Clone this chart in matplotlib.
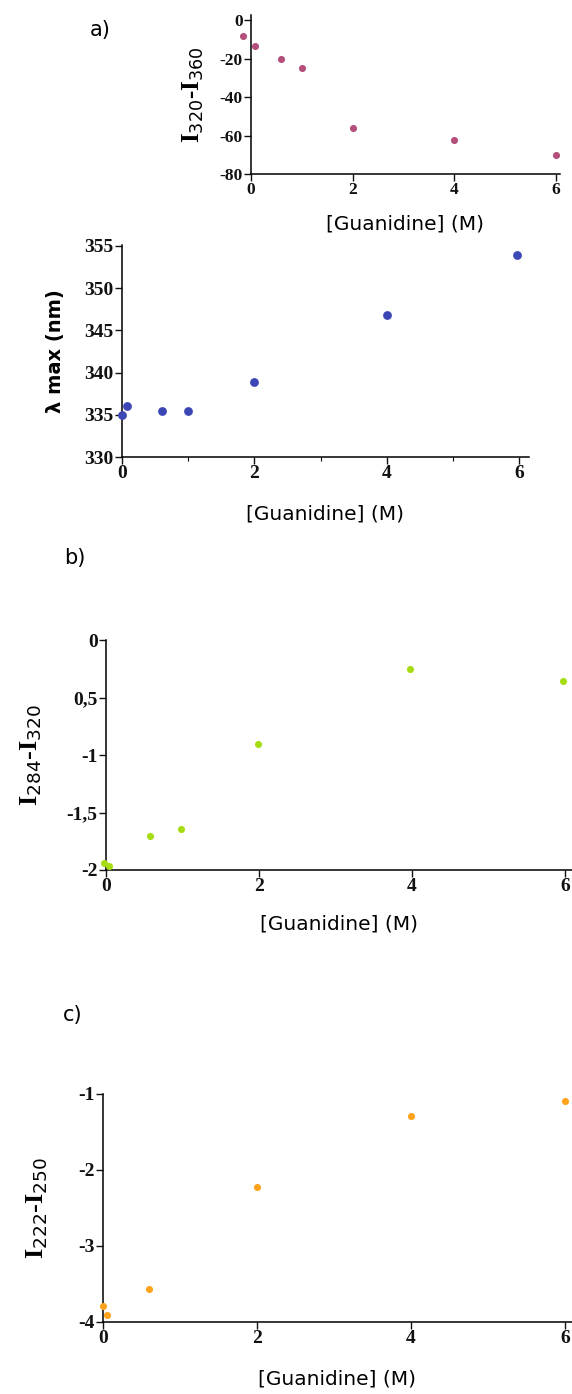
import matplotlib
matplotlib.use("Agg")
import matplotlib.pyplot as plt
from matplotlib.ticker import FixedLocator

# ---- data ----
gdn_a1 = [-0.15, 0.07, 0.6, 1.0, 2.0, 4.0, 6.0]
i320_i360 = [-8.2, -13.7, -20.2, -24.8, -56.2, -62.3, -70.2]

gdn_a2 = [0.0, 0.07, 0.6, 1.0, 2.0, 4.0, 5.97]
lam_max = [335.0, 336.0, 335.5, 335.5, 338.9, 346.8, 353.9]

gdn_b = [-0.02, 0.04, 0.57, 0.98, 1.98, 3.97, 5.97]
i284_i320 = [-1.94, -1.965, -1.70, -1.64, -0.90, -0.25, -0.36]
b_ticks = [0, -0.5, -1, -1.5, -2]
b_ticklabels = ["0", "0,5", "-1", "-1,5", "-2"]

gdn_c = [0.0, 0.05, 0.6, 2.0, 4.0, 6.0]
i222_i250 = [-3.79, -3.91, -3.56, -2.22, -1.29, -1.09]

PINK = "#b44f7c"
BLUE = "#3c46b4"
GREEN = "#a6dc12"
ORANGE = "#ffa21c"
INK = "#111111"

SERIF = ["Liberation Serif", "DejaVu Serif"]
SANS = ["DejaVu Sans"]
plt.rcParams.update({
    "mathtext.fontset": "dejavusans",
    "axes.unicode_minus": False,
    "axes.linewidth": 1.1,
})

W, H = 572, 1394
fig = plt.figure(figsize=(W / 100, H / 100), dpi=100)


def add_ax(x0, y0, x1, y1):
    # pixel box (top-left origin) -> figure fraction
    return fig.add_axes([x0 / W, 1 - y1 / H, (x1 - x0) / W, (y1 - y0) / H])


def style(ax, fs):
    for s in ("top", "right"):
        ax.spines[s].set_visible(False)
    ax.tick_params(direction="out", length=5, width=1, colors=INK, pad=1)
    for lab in ax.get_xticklabels() + ax.get_yticklabels():
        lab.set_family(SERIF)
        lab.set_fontweight("bold")
        lab.set_fontsize(fs)


# ---- a) top: I320 - I360 ----
ax = add_ax(251, 15, 560, 174)
ax.scatter(gdn_a1, i320_i360, s=26, color=PINK, clip_on=False, zorder=3, linewidths=0)
ax.set_xlim(0, 6.08)
ax.set_ylim(-80, 2.6)
ax.set_xticks([0, 2, 4, 6])
ax.set_yticks([0, -20, -40, -60, -80])
style(ax, 12.5)
ax.set_ylabel(r"I$_{320}$-I$_{360}$", family=SERIF, fontweight="bold", fontsize=18, labelpad=10)
ax.set_xlabel("[Guanidine] (M)", family=SANS, fontsize=14.5, labelpad=12)
fig.text(100 / W, 1 - 30 / H, "a)", family=SANS, fontsize=15, ha="center", va="center")

# ---- a) bottom: lambda max ----
ax = add_ax(122, 245, 529, 457)
ax.scatter(gdn_a2, lam_max, s=40, color=BLUE, clip_on=False, zorder=3, linewidths=0)
ax.set_xlim(0, 6.15)
ax.set_ylim(330, 355.1)
ax.set_xticks([0, 2, 4, 6])
ax.xaxis.set_minor_locator(FixedLocator([1, 3, 5]))
ax.tick_params(axis="x", which="minor", length=3, width=0.8)
ax.set_yticks([330, 335, 340, 345, 350, 355])
style(ax, 14)
ax.set_ylabel("λ max (nm)", family=SANS, fontweight="bold", fontsize=14, labelpad=14)
ax.set_xlabel("[Guanidine] (M)", family=SANS, fontsize=14.5, labelpad=16)

# ---- b) I284 - I320 ----
ax = add_ax(106, 640, 572, 870)
ax.scatter(gdn_b, i284_i320, s=26, color=GREEN, clip_on=False, zorder=3, linewidths=0)
ax.set_xlim(0, 6.09)
ax.set_ylim(-2, 0)
ax.set_xticks([0, 2, 4, 6])
ax.set_yticks(b_ticks)
ax.set_yticklabels(b_ticklabels)
style(ax, 14)
ax.set_ylabel(r"I$_{284}$-I$_{320}$", family=SERIF, fontweight="bold", fontsize=19, labelpad=16)
ax.set_xlabel("[Guanidine] (M)", family=SANS, fontsize=14.5, labelpad=14)
fig.text(75 / W, 1 - 558 / H, "b)", family=SANS, fontsize=15, ha="center", va="center")

# ---- c) I222 - I250 ----
ax = add_ax(103, 1094, 572, 1322)
ax.scatter(gdn_c, i222_i250, s=26, color=ORANGE, clip_on=False, zorder=3, linewidths=0)
ax.set_xlim(0, 6.09)
ax.set_ylim(-4, -1)
ax.set_xticks([0, 2, 4, 6])
ax.set_yticks([-1, -2, -3, -4])
style(ax, 14)
ax.set_ylabel(r"I$_{222}$-I$_{250}$", family=SERIF, fontweight="bold", fontsize=19, labelpad=20)
ax.set_xlabel("[Guanidine] (M)", family=SANS, fontsize=14.5, labelpad=16)
fig.text(73 / W, 1 - 1015 / H, "c)", family=SANS, fontsize=15, ha="center", va="center")

fig.savefig("out.png", dpi=100, facecolor="white")
